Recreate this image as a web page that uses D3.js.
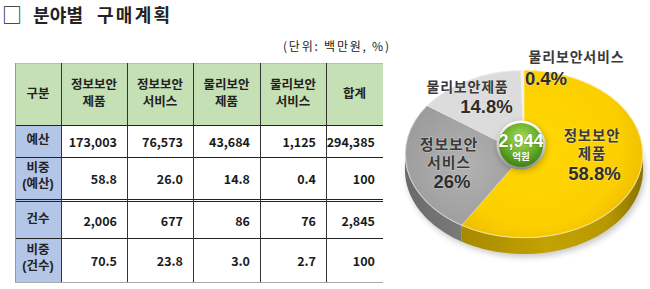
<!DOCTYPE html>
<html><head><meta charset="utf-8">
<script src="https://cdn.jsdelivr.net/npm/d3@7"></script>
<style>
html,body{margin:0;padding:0;background:#fff;}
svg{display:block;font-family:"Noto Sans CJK KR","Noto Sans",sans-serif;}
</style></head>
<body>
<script>
// ---------- data ----------
const titleParts = ["분야별", "구매계획"];
const unitNote = "(단위: 백만원, %)";
const headerLabel = "구분";
const totalLabel = "합계";
const categories = ["정보보안 제품", "정보보안 서비스", "물리보안 제품", "물리보안 서비스"];
const rowLabels = [["예산"], ["비중", "(예산)"], ["건수"], ["비중", "(건수)"]];
const budget = [173003, 76573, 43684, 1125];
const budgetTotal = 294385;
const budgetShare = [58.8, 26.0, 14.8, 0.4];
const budgetShareTotal = 100;
const counts = [2006, 677, 86, 76];
const countTotal = 2845;
const countShare = [70.5, 23.8, 3.0, 2.7];
const countShareTotal = 100;
const pieLabels = [["정보보안", "제품"], ["정보보안", "서비스"], ["물리보안제품"], ["물리보안서비스"]];
const piePct = ["58.8%", "26%", "14.8%", "0.4%"];
const pieCenterValue = "2,944";
const pieCenterUnit = "억원";

// ---------- setup ----------
const W = 650, H = 289;
const LAT = "'Liberation Sans','Noto Sans CJK KR',sans-serif";
const svg = d3.select("body").append("svg").attr("width", W).attr("height", H);
const defs = svg.append("defs");

// title
const tt = svg.append("text").attr("y", 13.5).attr("dominant-baseline", "central").attr("fill", "#222");
tt.append("tspan").attr("x", 2).attr("font-size", 20).text("□");
tt.append("tspan").attr("x", 33).attr("font-size", 18).attr("font-weight", 700)
  .attr("textLength", 50).attr("lengthAdjust", "spacing").text(titleParts[0]);
tt.append("tspan").attr("x", 97).attr("font-size", 18).attr("font-weight", 700)
  .attr("textLength", 73).attr("lengthAdjust", "spacing").text(titleParts[1]);
svg.append("text").attr("x", 283).attr("y", 45).attr("dominant-baseline", "central")
  .attr("font-size", 12).attr("fill", "#222").attr("textLength", 106).attr("lengthAdjust", "spacing")
  .text(unitNote);

// ---------- table ----------
const colEdges = [15, 61, 127, 193, 260, 326, 383];
const rowEdges = [63, 125, 157, 199, 201, 238, 282];
const fmt0 = d3.format(",");
const fmt1 = d3.format(".1f");
const rows = [
  {label: rowLabels[0], vals: budget.map(fmt0).concat(fmt0(budgetTotal)), y0: rowEdges[1], y1: rowEdges[2]},
  {label: rowLabels[1], vals: budgetShare.map(fmt1).concat(String(budgetShareTotal)), y0: rowEdges[2], y1: rowEdges[3]},
  {label: rowLabels[2], vals: counts.map(fmt0).concat(fmt0(countTotal)), y0: rowEdges[4], y1: rowEdges[5]},
  {label: rowLabels[3], vals: countShare.map(fmt1).concat(String(countShareTotal)), y0: rowEdges[5], y1: rowEdges[6]}
];
const tbl = svg.append("g");
const green = "#c5e0b4", blue = "#b4c6e7";
tbl.append("rect").attr("x", colEdges[0]).attr("y", rowEdges[0])
  .attr("width", colEdges[6] - colEdges[0]).attr("height", rowEdges[1] - rowEdges[0]).attr("fill", green);
tbl.append("rect").attr("x", colEdges[0]).attr("y", rowEdges[1]).attr("width", colEdges[1] - colEdges[0])
  .attr("height", rowEdges[6] - rowEdges[1]).attr("fill", blue);

function multi(g, x, yMid, lines, gap, attrs) {
  const t = g.append("text").attr("text-anchor", "middle").attr("dominant-baseline", "central");
  Object.entries(attrs).forEach(([k, v]) => t.attr(k, v));
  lines.forEach((ln, j) => {
    t.append("tspan").attr("x", x).attr("y", yMid + (j - (lines.length - 1) / 2) * gap).text(ln);
  });
  return t;
}
const cellFont = {"font-size": 12.5, "font-weight": 700, "fill": "#222", "font-family": LAT};

const headers = [[headerLabel]].concat(categories.map(c => c.split(" "))).concat([[totalLabel]]);
const hMid = (rowEdges[0] + rowEdges[1]) / 2 - 0.5;
headers.forEach((lines, i) => {
  multi(tbl, (colEdges[i] + colEdges[i + 1]) / 2, hMid, lines, 17, cellFont);
});
rows.forEach(r => {
  const mid = (r.y0 + r.y1) / 2;
  multi(tbl, (colEdges[0] + colEdges[1]) / 2, r.label.length > 1 ? mid - 2 : mid - 1, r.label, 16, cellFont);
  r.vals.forEach((v, i) => {
    tbl.append("text").attr("x", colEdges[i + 2] - (i === 4 ? 8 : 10)).attr("y", mid + 0.5)
      .attr("text-anchor", "end").attr("dominant-baseline", "central")
      .attr("font-size", 12.5).attr("font-weight", 700).attr("fill", "#1a1a1a").text(v);
  });
});
const line = (x1, y1, x2, y2, c) => tbl.append("line").attr("x1", x1).attr("y1", y1)
  .attr("x2", x2).attr("y2", y2).attr("stroke", c).attr("stroke-width", 1);
rowEdges.slice(1, 6).forEach(y => line(colEdges[0], y + 0.5, colEdges[6], y + 0.5, "#222"));
line(colEdges[0], rowEdges[0] + 0.5, colEdges[6], rowEdges[0] + 0.5, "#bbb");
line(colEdges[0], rowEdges[6] + 0.5, colEdges[6], rowEdges[6] + 0.5, "#aaa");
line(colEdges[0] + 0.5, rowEdges[0], colEdges[0] + 0.5, rowEdges[6], "#999");
colEdges.slice(1, 6).forEach(x => line(x + 0.5, rowEdges[0], x + 0.5, rowEdges[6], "#333"));

// ---------- pie ----------
const cx = 524, cy = 154, rx = 119, ry = 84, th = 16;
const pie = d3.pie().sort(null).value(d => d)(budgetShare);

const yg = defs.append("linearGradient").attr("id", "ySide").attr("gradientUnits", "userSpaceOnUse")
  .attr("x1", cx - rx).attr("x2", cx + rx).attr("y1", 0).attr("y2", 0);
[[0, "#8c7300"], [0.25, "#a88a00"], [0.6, "#c3a300"], [0.85, "#b89800"], [1, "#8a7000"]]
  .forEach(s => yg.append("stop").attr("offset", s[0]).attr("stop-color", s[1]));
const gg = defs.append("linearGradient").attr("id", "gSide").attr("gradientUnits", "userSpaceOnUse")
  .attr("x1", cx - rx).attr("x2", cx).attr("y1", 0).attr("y2", 0);
[[0, "#6a6a6a"], [1, "#8a8a8a"]].forEach(s => gg.append("stop").attr("offset", s[0]).attr("stop-color", s[1]));
const sideFill = ["url(#ySide)", "url(#gSide)", "#a0a0a0", "#b0b0b0"];

const ryg = defs.append("radialGradient").attr("id", "yTop").attr("cx", "40%").attr("cy", "45%").attr("r", "60%");
[[0, "#ffd800"], [0.8, "#fccf00"], [1, "#f0c000"]].forEach(s => ryg.append("stop").attr("offset", s[0]).attr("stop-color", s[1]));
const rgg = defs.append("radialGradient").attr("id", "gTop").attr("cx", "50%").attr("cy", "50%").attr("r", "55%");
[[0, "#b2b2b2"], [1, "#9c9c9c"]].forEach(s => rgg.append("stop").attr("offset", s[0]).attr("stop-color", s[1]));
const topFill = ["url(#yTop)", "url(#gTop)", "#dcdcdc", "#efefef"];

const blur = defs.append("filter").attr("id", "blur").attr("x", "-20%").attr("y", "-20%").attr("width", "140%").attr("height", "140%");
blur.append("feGaussianBlur").attr("stdDeviation", 3);

const pg = svg.append("g");
pg.append("ellipse").attr("cx", cx + 2).attr("cy", cy + th + 3).attr("rx", rx).attr("ry", ry)
  .attr("fill", "#000").attr("opacity", 0.22).attr("filter", "url(#blur)");

const px = a => cx + rx * Math.sin(a), py = a => cy - ry * Math.cos(a);
pie.forEach((d, i) => {
  const s = Math.max(d.startAngle, Math.PI / 2), e = Math.min(d.endAngle, 3 * Math.PI / 2);
  if (s >= e) return;
  const n = 40, pts = [];
  for (let k = 0; k <= n; k++) { const a = s + (e - s) * k / n; pts.push([px(a), py(a)]); }
  for (let k = n; k >= 0; k--) { const a = s + (e - s) * k / n; pts.push([px(a), py(a) + th]); }
  pg.append("path").attr("d", d3.line()(pts) + "Z").attr("fill", sideFill[i]);
});
const arc = d3.arc().innerRadius(0).outerRadius(rx);
const tg = pg.append("g").attr("transform", `translate(${cx},${cy}) scale(1,${ry / rx})`);
tg.selectAll("path").data(pie).join("path").attr("d", arc)
  .attr("fill", (d, i) => topFill[i]).attr("stroke", "#fff").attr("stroke-opacity", 0.5)
  .attr("stroke-width", 0.6).attr("vector-effect", "non-scaling-stroke");
pg.append("ellipse").attr("cx", cx).attr("cy", cy).attr("rx", rx - 0.5).attr("ry", ry - 0.5)
  .attr("fill", "none").attr("stroke", "#fff").attr("stroke-opacity", 0.35).attr("stroke-width", 1);

// centre badge
const bx = 521, by = 145;
const sg = defs.append("linearGradient").attr("id", "silver").attr("x1", 0).attr("y1", 0).attr("x2", 0).attr("y2", 1);
[[0, "#ffffff"], [0.5, "#d0d0d0"], [1, "#8c8c8c"]].forEach(s => sg.append("stop").attr("offset", s[0]).attr("stop-color", s[1]));
const grg = defs.append("radialGradient").attr("id", "green").attr("cx", "50%").attr("cy", "35%").attr("r", "65%");
[[0, "#a9dc5a"], [0.55, "#6cb22c"], [1, "#3d8212"]].forEach(s => grg.append("stop").attr("offset", s[0]).attr("stop-color", s[1]));
pg.append("circle").attr("cx", bx + 1).attr("cy", by + 2).attr("r", 25).attr("fill", "#000").attr("opacity", 0.2).attr("filter", "url(#blur)");
pg.append("circle").attr("cx", bx).attr("cy", by).attr("r", 24.5).attr("fill", "url(#silver)");
pg.append("circle").attr("cx", bx).attr("cy", by).attr("r", 22).attr("fill", "url(#green)");
const bt = pg.append("text").attr("text-anchor", "middle").attr("dominant-baseline", "central")
  .attr("font-weight", 700).attr("fill", "#fff").attr("font-family", LAT);
bt.append("tspan").attr("x", bx).attr("y", by - 4).attr("font-size", 18)
  .attr("stroke", "#3e7a12").attr("stroke-width", 0.6).attr("paint-order", "stroke").text(pieCenterValue);
bt.append("tspan").attr("x", bx).attr("y", by + 10.5).attr("font-size", 9.5).text(pieCenterUnit);

// pie labels
const labelSpec = [
  {x: 592, y: 144.5, gap: 18, pct: 173.5, nameSize: 14.5, pctX: 594.5},
  {x: 449, y: 152.5, gap: 18, pct: 181, nameSize: 15, pctX: 452},
  {x: 467.5, y: 86.5, gap: 18, pct: 106, nameSize: 14, pctX: 486.5},
  {x: 576.5, y: 57, gap: 18, pct: 78, nameSize: 14, pctX: 546}
];
const halo = {"stroke": "#fff", "stroke-opacity": 0.35, "stroke-width": 1.2, "paint-order": "stroke"};
pie.forEach((d, i) => {
  const L = labelSpec[i];
  multi(svg, L.x, L.y, pieLabels[i], L.gap, Object.assign({"font-size": L.nameSize, "font-weight": 700,
    "letter-spacing": 0.8, "fill": "#3a3a3a", "font-family": LAT}, halo));
  const t = svg.append("text").attr("x", L.pctX).attr("y", L.pct).attr("text-anchor", "middle")
    .attr("dominant-baseline", "central").attr("font-size", 18.5).attr("font-weight", 700)
    .attr("fill", "#2e2e2e").attr("font-family", LAT);
  Object.entries(halo).forEach(([k, v]) => t.attr(k, v));
  t.text(piePct[i]);
});
</script>
</body></html>
